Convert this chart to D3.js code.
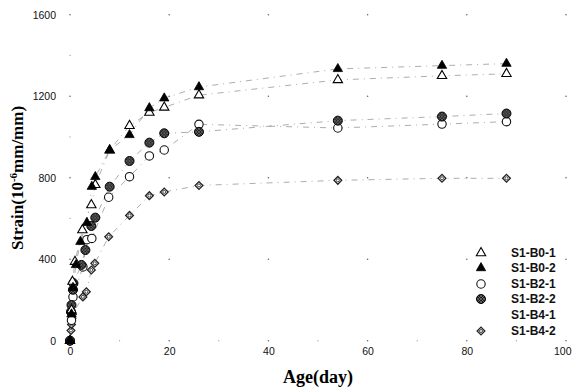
<!DOCTYPE html>
<html>
<head>
<meta charset="utf-8">
<script src="https://cdn.jsdelivr.net/npm/d3@7"></script>
<style>
  html, body { margin: 0; padding: 0; background: #fff; }
  svg { display: block; }
</style>
</head>
<body>
<svg id="chart" width="572" height="390"></svg>
<script>
// Shrinkage strain vs. age for six specimens
const xTicks = [0, 20, 40, 60, 80, 100];
const yTicks = [0, 400, 800, 1200, 1600];

// S1-B0-1 (open triangle)
const b01Days   = [0, 0.3, 0.5, 1.0, 2.5, 4.3, 5.1, 8, 12, 16, 19, 26, 54, 75, 88];
const b01Strain = [0, 150, 290, 388, 543, 666, 765, 935, 1055, 1120, 1145, 1205, 1280, 1300, 1310];

// S1-B0-2 (filled triangle)
const b02Days   = [0, 0.3, 0.6, 1.2, 2.1, 3.4, 4.4, 5.1, 8, 12, 16, 19, 26, 54, 75, 88];
const b02Strain = [0, 130, 260, 372, 486, 579, 756, 804, 935, 1010, 1142, 1190, 1245, 1334, 1350, 1360];

// S1-B2-1 (open circle)
const b21Days   = [0, 0.3, 0.6, 2.6, 3.4, 4.4, 7.8, 12, 16, 19, 26, 54, 75, 88];
const b21Strain = [0, 100, 215, 362, 496, 502, 704, 805, 907, 936, 1062, 1044, 1063, 1075];

// S1-B2-2 (hatched circle)
const b22Days   = [0, 0.2, 0.3, 0.6, 0.7, 2.3, 3.1, 4.3, 5.1, 8, 12, 16, 19, 26, 54, 75, 88];
const b22Strain = [0, 142, 175, 250, 282, 372, 445, 563, 604, 756, 882, 972, 1018, 1025, 1080, 1100, 1115];

// S1-B4-1 (no readable points)
const b41Days   = [];
const b41Strain = [];

// S1-B4-2 (dotted diamond)
const b42Days   = [0, 0.2, 0.3, 0.4, 0.5, 2.6, 3.3, 4.3, 5.0, 7.8, 12, 16, 19, 26, 54, 75, 88];
const b42Strain = [0, 50, 80, 110, 130, 215, 240, 347, 380, 510, 615, 712, 730, 762, 787, 797, 797];

const seriesNames = ["S1-B0-1", "S1-B0-2", "S1-B2-1", "S1-B2-2", "S1-B4-1", "S1-B4-2"];

const svg = d3.select("#chart");
svg.append("rect").attr("width", 572).attr("height", 390).attr("fill", "#fff");

const x = d3.scaleLinear().domain([0, 100]).range([70, 566]);
const y = d3.scaleLinear().domain([0, 1600]).range([340.7, 14.7]);

// hatch fill for the dark circles
const defs = svg.append("defs");
const pat = defs.append("pattern")
  .attr("id", "hatch").attr("patternUnits", "userSpaceOnUse")
  .attr("width", 3).attr("height", 3);
pat.append("rect").attr("width", 3).attr("height", 3).attr("fill", "#1a1a1a");
pat.append("path").attr("d", "M0,3 L3,0 M0,0 L3,3")
  .attr("stroke", "#8a8a8a").attr("stroke-width", 0.6);

// faint grid dots at the major intersections
const gridG = svg.append("g");
xTicks.forEach(xv => {
  yTicks.forEach(yv => {
    gridG.append("circle").attr("cx", x(xv)).attr("cy", y(yv))
      .attr("r", 0.8).attr("fill", "#666");
  });
});
[10, 30, 50, 70, 90].forEach(xv => {
  gridG.append("circle").attr("cx", x(xv)).attr("cy", y(0))
    .attr("r", 0.6).attr("fill", "#999");
});
[200, 600, 1000, 1400].forEach(yv => {
  gridG.append("circle").attr("cx", x(0)).attr("cy", y(yv))
    .attr("r", 0.6).attr("fill", "#999");
});

// tick labels (no axis lines)
const labelFont = "'Liberation Sans', Arial, sans-serif";
const xAxis = d3.axisBottom(x).tickValues(xTicks).tickFormat(d3.format("d")).tickSize(0).tickPadding(0);
const gx = svg.append("g").attr("transform", "translate(0,348)").call(xAxis);
gx.select(".domain").remove();
gx.selectAll("text").attr("font-family", labelFont).attr("font-size", 10.5).attr("fill", "#111");
// keep the last label inside the frame
gx.selectAll(".tick").filter(d => d === 100).select("text")
  .attr("text-anchor", "end").attr("x", 571 - x(100));

const yAxis = d3.axisLeft(y).tickValues(yTicks).tickFormat(d3.format("d")).tickSize(0).tickPadding(0);
const gy = svg.append("g").attr("transform", "translate(56,0)").call(yAxis);
gy.select(".domain").remove();
gy.selectAll("text").attr("font-family", labelFont).attr("font-size", 10.5).attr("fill", "#111");

// axis titles
const titleFont = "'Liberation Serif', 'Times New Roman', serif";
svg.append("text")
  .attr("x", 318).attr("y", 383)
  .attr("text-anchor", "middle")
  .attr("font-family", titleFont).attr("font-weight", "bold").attr("font-size", 18)
  .attr("fill", "#000").text("Age(day)");

const yt = svg.append("text")
  .attr("transform", "translate(23,178) rotate(-90)")
  .attr("text-anchor", "middle")
  .attr("font-family", titleFont).attr("font-weight", "bold").attr("font-size", 17)
  .attr("fill", "#000");
yt.append("tspan").text("Strain(10");
yt.append("tspan").attr("dy", -6).attr("font-size", 11).text("-6");
yt.append("tspan").attr("dy", 6).text("mm/mm)");

// marker painters
const triPath = d3.symbol().type(d3.symbolTriangle).size(38)();
const sqPath = d3.symbol().type(d3.symbolSquare).size(30)();

function drawMarker(g, kind) {
  if (kind === "triOpen") {
    g.append("path").attr("d", triPath).attr("fill", "#fff").attr("stroke", "#000").attr("stroke-width", 1.1);
  } else if (kind === "triFill") {
    g.append("path").attr("d", triPath).attr("fill", "#000").attr("stroke", "#000").attr("stroke-width", 0.8);
  } else if (kind === "circOpen") {
    g.append("circle").attr("r", 4.2).attr("fill", "#fff").attr("stroke", "#111").attr("stroke-width", 1.1);
  } else if (kind === "circHatch") {
    g.append("circle").attr("r", 4.5).attr("fill", "url(#hatch)").attr("stroke", "#000").attr("stroke-width", 1);
  } else if (kind === "diamond") {
    g.append("path").attr("d", sqPath).attr("transform", "rotate(45)")
      .attr("fill", "#fff").attr("stroke", "#222").attr("stroke-width", 1.3);
    g.append("circle").attr("r", 1.5).attr("fill", "#fff").attr("stroke", "#333").attr("stroke-width", 0.9);
  }
}

const series = [
  { name: seriesNames[5], days: b42Days, vals: b42Strain, kind: "diamond" },
  { name: seriesNames[4], days: b41Days, vals: b41Strain, kind: "none" },
  { name: seriesNames[2], days: b21Days, vals: b21Strain, kind: "circOpen" },
  { name: seriesNames[3], days: b22Days, vals: b22Strain, kind: "circHatch" },
  { name: seriesNames[0], days: b01Days, vals: b01Strain, kind: "triOpen" },
  { name: seriesNames[1], days: b02Days, vals: b02Strain, kind: "triFill" }
];

// connecting dash-dot lines, faint
const line = d3.line().x(d => x(d[0])).y(d => y(d[1]));
const lineG = svg.append("g");
series.forEach(s => {
  const pts = s.days.map((d, i) => [d, s.vals[i]]);
  if (pts.length < 2) return;
  lineG.append("path").attr("d", line(pts))
    .attr("fill", "none").attr("stroke", "#8a8a8a").attr("stroke-width", 0.7)
    .attr("stroke-dasharray", "6,5,1,5");
});

// points
const ptsG = svg.append("g");
series.forEach(s => {
  s.days.forEach((d, i) => {
    const g = ptsG.append("g").attr("transform", `translate(${x(d)},${y(s.vals[i])})`);
    drawMarker(g, s.kind);
  });
});

// legend
const legendKinds = ["triOpen", "triFill", "circOpen", "circHatch", "none", "diamond"];
const legendRows = [253, 268, 284, 299, 315, 331];
const lg = svg.append("g");
seriesNames.forEach((name, i) => {
  const g = lg.append("g").attr("transform", `translate(481,${legendRows[i]})`);
  drawMarker(g, legendKinds[i]);
  lg.append("text").attr("x", 511).attr("y", legendRows[i]).attr("dy", "0.36em")
    .attr("font-family", labelFont).attr("font-weight", "bold").attr("font-size", 12)
    .attr("fill", "#111").text(name);
});
</script>
</body>
</html>
